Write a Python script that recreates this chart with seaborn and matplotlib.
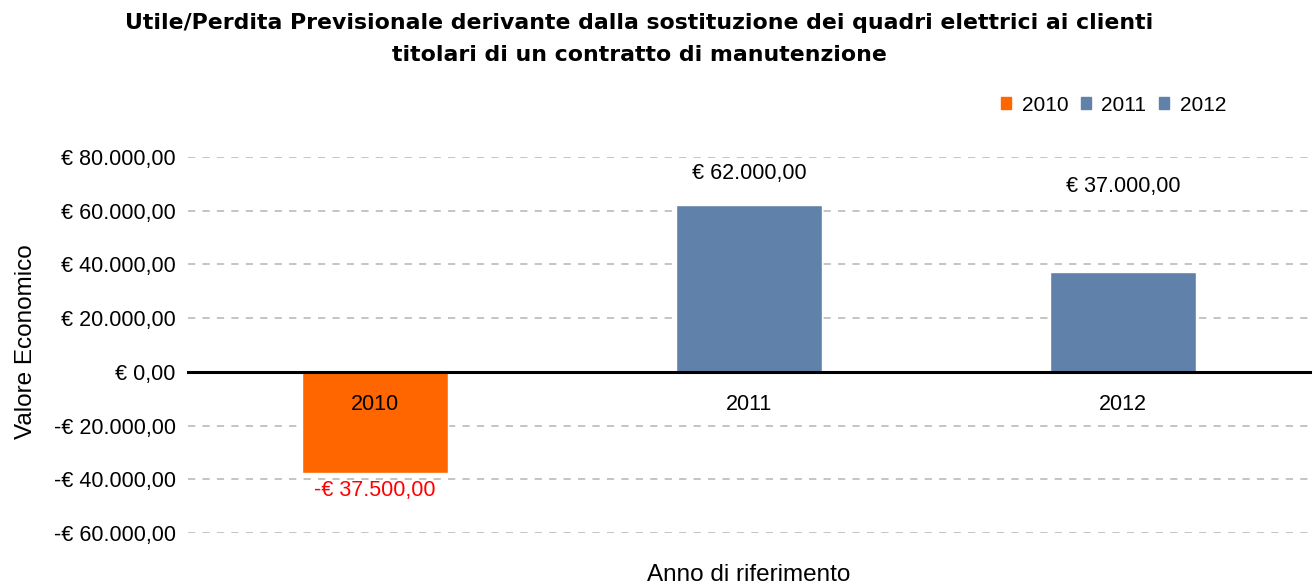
import pandas as pd
import matplotlib
matplotlib.use("Agg")
import matplotlib.pyplot as plt
from matplotlib.patches import Patch
import seaborn as sns

# values
anni = ["2010", "2011", "2012"]
valori = [-37500, 62000, 37000]
colori = ["#FF6600", "#6081A9", "#6081A9"]
etichette = ["-€ 37.500,00", "€ 62.000,00", "€ 37.000,00"]
colori_etichette = ["#FF0000", "black", "black"]
y_ticks = [-60000, -40000, -20000, 0, 20000, 40000, 60000, 80000]
y_labels = ["-€ 60.000,00", "-€ 40.000,00", "-€ 20.000,00", "€ 0,00",
            "€ 20.000,00", "€ 40.000,00", "€ 60.000,00", "€ 80.000,00"]

df = pd.DataFrame({"anno": anni, "valore": valori})

sns.set_style("white")
plt.rcParams["font.family"] = ["Liberation Sans", "DejaVu Sans"]
plt.rcParams["text.color"] = "black"
plt.rcParams["axes.labelcolor"] = "black"
plt.rcParams["xtick.color"] = "black"
plt.rcParams["ytick.color"] = "black"

fig = plt.figure(figsize=(13.16, 5.84), dpi=100)
ax = fig.add_axes([0.1429, 0.0873, 0.8525, 0.6439])

sns.barplot(data=df, x="anno", y="valore", hue="anno", palette=colori,
            dodge=False, width=0.39, saturation=1, legend=False, ax=ax, zorder=1)
ax.set_axisbelow(False)

# dashed grid behind bars
for t in y_ticks:
    if t != 0:
        ax.axhline(t, color="#BFBFBF", lw=1.3, ls=(0, (4, 4)), zorder=0)

ax.set_ylim(-60000, 80000)
ax.set_xlim(-0.5, 2.5)
ax.set_yticks(y_ticks)
ax.set_yticklabels(y_labels, fontsize=15.5)
ax.tick_params(axis="y", length=0, pad=9)

for s in ["top", "right", "left"]:
    ax.spines[s].set_visible(False)
ax.spines["bottom"].set_position(("data", 0))
ax.spines["bottom"].set_color("black")
ax.spines["bottom"].set_linewidth(2.2)
ax.spines["bottom"].set_zorder(3)

ax.set_xticks([-0.5, 0.5, 1.5, 2.5], minor=True)
ax.tick_params(axis="x", which="minor", length=6, width=2, color="black", direction="out")
ax.tick_params(axis="x", which="major", length=0, pad=16, labelsize=15.5)

# label offsets (points) as Excel placed them
offsets = [-13, 23, 62]
for i, (v, lab, c, off) in enumerate(zip(valori, etichette, colori_etichette, offsets)):
    ax.annotate(lab, (i, v), xytext=(0, off), textcoords="offset points",
                ha="center", va="center", fontsize=15.5, color=c)

ax.set_xlabel("Anno di riferimento", fontsize=17.5)
ax.xaxis.set_label_coords(0.5, -0.083)
ax.set_ylabel("Valore Economico", fontsize=17.5)
ax.yaxis.set_label_coords(-0.135, 0.51)

handles = [Patch(color=c, label=a) for a, c in zip(anni, colori)]
ax.legend(handles=handles, loc="center right", bbox_to_anchor=(0.946, 0.82),
          bbox_transform=fig.transFigure, ncol=3, frameon=False, fontsize=15,
          handlelength=0.5, handleheight=0.5, handletextpad=0.5, columnspacing=0.6)

fig.text(0.486, 0.978, "Utile/Perdita Previsionale derivante dalla sostituzione dei quadri elettrici ai clienti\ntitolari di un contratto di manutenzione",
         ha="center", va="top", fontsize=15.8, fontweight="bold", linespacing=1.75,
         family="DejaVu Sans")

fig.savefig("out.png", dpi=100)
